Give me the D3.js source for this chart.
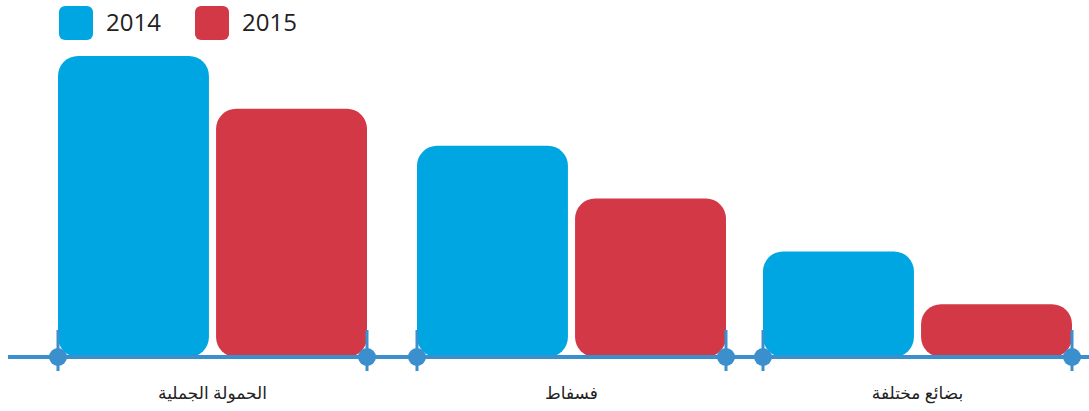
<html>
  <head>
    <meta charset="utf-8">
    <title>bars</title>
    <style>
      body { margin: 0; background: #fff; }
      text { font-family: "Open Sans", "DejaVu Sans", sans-serif; fill: #222; }
    </style>
    <script src="https://d3js.org/d3.v7.min.js"></script>
  </head>
  <body>
    <svg id="chart" width="1089" height="411"></svg>
    <script>
      // data
      var categories = ["الحمولة الجملية", "فسفاط", "بضائع مختلفة"]
      var years = ["2014", "2015"]
      var values2014 = [57, 40, 20]
      var values2015 = [47, 30, 10]
      var colors = ["#00a6e2", "#d33846"]

      var svg = d3.select("#chart"),
          baseY = 357,
          groupW = 309

      // group starts are not evenly spaced in the original
      var x0 = d3.scaleOrdinal()
                 .domain(categories)
                 .range([58, 417, 763])

      var x1 = d3.scaleBand()
                 .domain(years)
                 .range([0, groupW])
                 .paddingInner(0.045)

      var y = d3.scaleLinear()
                .domain([0, 57])
                .range([baseY, 56])

      var rows = categories.map(function(c, i){
        return {cat: c, vals: [values2014[i], values2015[i]]}
      })

      // bars
      var groups = svg.selectAll("g.group")
                      .data(rows)
                      .join("g")
                      .attr("class", "group")
                      .attr("transform", d => "translate(" + x0(d.cat) + ",0)")

      groups.selectAll("rect")
            .data(d => d.vals.map((v, i) => ({year: years[i], v: v, i: i})))
            .join("rect")
            .attr("x", d => x1(d.year))
            .attr("y", d => y(d.v))
            .attr("width", x1.bandwidth())
            .attr("height", d => baseY - y(d.v))
            .attr("rx", 20)
            .attr("fill", d => colors[d.i])

      // axis line
      var axisColor = "#3a8fcc"
      svg.append("line")
         .attr("x1", 8).attr("x2", 1089)
         .attr("y1", baseY).attr("y2", baseY)
         .attr("stroke", axisColor)
         .attr("stroke-width", 4)

      var edges = []
      categories.forEach(function(c){
        edges.push(x0(c))
        edges.push(x0(c) + groupW)
      })

      svg.selectAll("line.tick")
         .data(edges)
         .join("line")
         .attr("class", "tick")
         .attr("x1", d => d).attr("x2", d => d)
         .attr("y1", 330).attr("y2", 371)
         .attr("stroke", axisColor)
         .attr("stroke-width", 3)

      svg.selectAll("circle.dot")
         .data(edges)
         .join("circle")
         .attr("class", "dot")
         .attr("cx", d => d)
         .attr("cy", baseY)
         .attr("r", 9)
         .attr("fill", axisColor)

      // category labels
      svg.selectAll("text.cat")
         .data(categories)
         .join("text")
         .attr("class", "cat")
         .attr("x", d => x0(d) + groupW / 2)
         .attr("y", 399)
         .attr("text-anchor", "middle")
         .attr("direction", "rtl")
         .style("font-size", "17px")
         .text(d => d)

      // legend
      var legendX = [59, 195]
      var legend = svg.selectAll("g.legend")
                      .data(years)
                      .join("g")
                      .attr("class", "legend")
                      .attr("transform", (d, i) => "translate(" + legendX[i] + ",6)")

      legend.append("rect")
            .attr("width", 34)
            .attr("height", 34)
            .attr("rx", 6)
            .attr("fill", (d, i) => colors[i])

      legend.append("text")
            .attr("x", 47)
            .attr("y", 25)
            .style("font-size", "24px")
            .text(d => d)
    </script>
  </body>
</html>
